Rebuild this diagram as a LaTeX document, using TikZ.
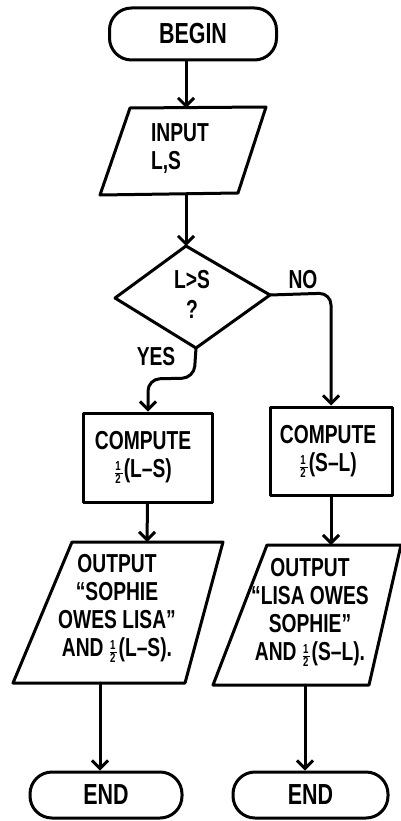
\documentclass[tikz,border=0pt]{standalone}
\usepackage{fontspec}
\setmainfont{Liberation Sans}[FakeStretch=0.74]
\usetikzlibrary{arrows.meta}
\newcommand{\hf}{\ensuremath{\scriptstyle\frac{\mathbf{1}}{\mathbf{2}}}}
\begin{document}
\begin{tikzpicture}[x=1pt,y=-1pt,
  ln/.style={line width=3pt, line join=round, line cap=round},
  term/.style={ln, draw, rounded corners=22pt, inner sep=0pt, font=\bfseries\fontsize{29}{30}\selectfont},
  procbox/.style={ln, draw, inner sep=0pt},
  arr/.style={ln, -{Straight Barb[length=8pt,width=16pt]}},
  txt/.style={font=\bfseries\fontsize{26}{28}\selectfont, align=center, inner sep=0pt},
]
\useasboundingbox (0,0) rectangle (400,821);

% BEGIN
\node[term, minimum width=167pt, minimum height=52pt] (begin) at (193,34) {BEGIN};

% INPUT parallelogram
\draw[ln] (130,108) -- (266,107) -- (238,193) -- (100,195) -- cycle;
\node[txt, align=left] (input) at (180,149) {INPUT\\L,S};
\coordinate (in-n) at (186,108);
\coordinate (in-s) at (186,194);

% decision diamond
\draw[ln] (186,246) -- (270,295) -- (196,348) -- (115,298) -- cycle;
\node[txt] (cond) at (192,280) {L>S};
\node[txt] (q) at (192,309) {?};
\coordinate (dec-n) at (186,246);
\coordinate (dec-e) at (270,295);
\coordinate (dec-s) at (196,348);

\node[txt] (no) at (303,280) {NO};
\node[txt] (yes) at (156,357) {YES};

% compute boxes
\node[procbox, minimum width=129pt, minimum height=89pt] (lc) at (147.5,457.5) {};
\node[txt] (lct) at (143,457) {COMPUTE\\\hf(L–S)};
\node[procbox, minimum width=122pt, minimum height=88pt] (rc) at (331,451) {};
\node[txt] (rct) at (328,451) {COMPUTE\\\hf(S–L)};

% output parallelograms
\draw[ln] (72,542) -- (223,542) -- (185,683) -- (13,683) -- cycle;
\node[txt] (lout) at (117,608) {OUTPUT\\“SOPHIE\\OWES LISA”\\AND \hf(L–S).};
\coordinate (lo-n) at (147,542);
\coordinate (lo-s) at (100,683);

\draw[ln] (267,545) -- (401,545) -- (369,685) -- (213,685) -- cycle;
\node[txt] (rout) at (310,612) {OUTPUT\\“LISA OWES\\SOPHIE”\\AND \hf(S–L).};
\coordinate (ro-n) at (331,545);
\coordinate (ro-s) at (305,685);

% END terminals
\node[term, minimum width=152pt, minimum height=46pt] (lend) at (106,795) {END};
\node[term, minimum width=155pt, minimum height=46pt] (rend) at (310.5,795) {END};

% connectors
\draw[arr] (begin.south -| in-n) -- (in-n);
\draw[arr] (in-s) -- (dec-n);
\draw[arr, rounded corners=12pt] (dec-s) -- (194,378) -- (148,379) -- (lc.north -| 148,0);
\draw[arr, rounded corners=12pt] (dec-e) -- (331,293) -- (rc.north);
\draw[arr] (lc.south) -- (lo-n);
\draw[arr] (rc.south) -- (ro-n);
\draw[arr] (lo-s) -- (lend.north -| lo-s);
\draw[arr] (ro-s) -- (rend.north -| ro-s);
\end{tikzpicture}
\end{document}
